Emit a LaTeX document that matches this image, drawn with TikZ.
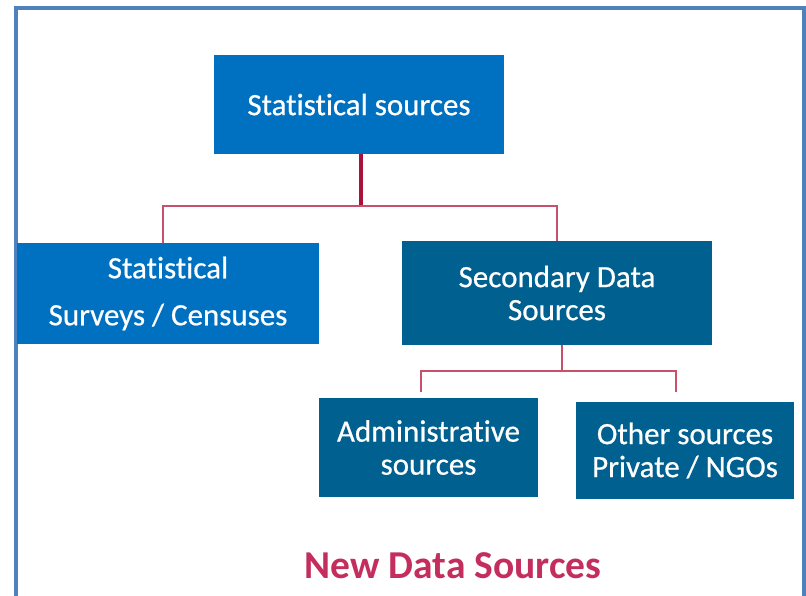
\documentclass[tikz,border=0pt]{standalone}
\usepackage{fontspec}
\setmainfont[Ligatures={NoCommon}]{Carlito}
\newfontfamily\boxfont[Ligatures={NoCommon},FakeBold=0.6]{Carlito}
\definecolor{frameblue}{HTML}{4F81BD}
\definecolor{boxblue}{HTML}{0070C0}
\definecolor{boxteal}{HTML}{00608F}
\definecolor{linedark}{HTML}{A8123C}
\definecolor{linelight}{HTML}{C8506A}
\definecolor{titlered}{HTML}{C42E5E}
\begin{document}
\begin{tikzpicture}[x=1pt,y=-1pt,
  boxstyle/.style={rectangle, draw=none, text=white, align=center, inner sep=0pt,
    font=\boxfont\fontsize{31}{33}\selectfont},
  thickline/.style={draw=linedark, line width=3.5pt},
  thinline/.style={draw=linelight, line width=2pt}]
\useasboundingbox (0,0) rectangle (806,596);
\fill[white] (0,0) rectangle (806,596);
\draw[frameblue, line width=4pt] (15.5,600) -- (15.5,8) -- (803.5,8) -- (803.5,600);

\node[boxstyle, fill=boxblue, minimum width=290pt, minimum height=99pt] (top) at (359,104.5) {Statistical sources};
\node[boxstyle, fill=boxblue, minimum width=302pt, minimum height=101pt,
  font=\boxfont\fontsize{31}{47}\selectfont] (left) at (168,293.5) {Statistical\\Surveys / Censuses};
\node[boxstyle, fill=boxteal, minimum width=310pt, minimum height=104pt] (sec) at (557,293) {Secondary Data\\Sources};
\node[boxstyle, fill=boxteal, minimum width=219pt, minimum height=99pt] (adm) at (428.5,447.5) {Administrative\\sources};
\node[boxstyle, fill=boxteal, minimum width=218pt, minimum height=97pt] (oth) at (685,450.5) {Other sources\\Private / NGOs};

\node[text=titlered, font=\fontsize{39.5}{42}\selectfont\bfseries] (title) at (453,566) {New Data Sources};

\coordinate (j1) at (361,206);
\coordinate (j2) at (562,371);
\coordinate (a1) at (421,392);
\coordinate (o1) at (676,392);

\draw[thickline] ([xshift=2pt]top.south) -- (j1);
\draw[thinline] ([xshift=-5pt]left.north) |- (j1) -| (sec.north);
\draw[thinline] ([xshift=5pt]sec.south) -- (j2);
\draw[thinline] (a1) |- (j2) -| (o1);
\end{tikzpicture}
\end{document}
